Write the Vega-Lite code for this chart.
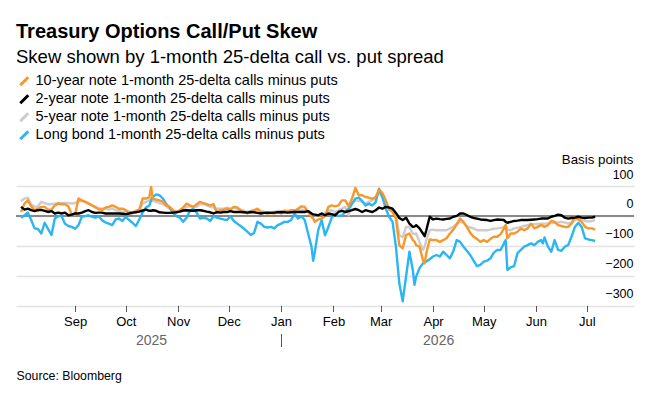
{
  "$schema": "https://vega.github.io/schema/vega-lite/v6.json",
  "autosize": {"type": "none"},
  "width": 618,
  "height": 119.5,
  "padding": {"left": 16, "top": 186, "right": 22, "bottom": 93.5},
  "background": "#ffffff",
  "config": {
    "view": {"stroke": null},
    "font": "Liberation Sans",
    "axis": {"labelOverlap": false},
    "axisY": {"labelOverlap": false, "labelSeparation": 0}
  },
  "title": {
    "text": "Treasury Options Call/Put Skew",
    "subtitle": "Skew shown by 1-month 25-delta call vs. put spread",
    "anchor": "start",
    "frame": "group",
    "font": "Liberation Sans",
    "fontSize": 20,
    "fontWeight": "bold",
    "color": "#000000",
    "subtitleFont": "Liberation Sans",
    "subtitleFontSize": 18.5,
    "subtitleColor": "#000000",
    "subtitlePadding": 6,
    "offset": 8
  },
  "data": {
    "values": [
      {"d": "2025-07-31", "o": 13, "k": 30, "g": 50, "b": -6},
      {"d": "2025-08-02", "o": 41, "k": 21, "g": 58, "b": 2},
      {"d": "2025-08-04", "o": 52, "k": 24, "g": 61, "b": 11},
      {"d": "2025-08-06", "o": 32, "k": 19, "g": 39, "b": -14},
      {"d": "2025-08-08", "o": 19, "k": 16, "g": 30, "b": -42},
      {"d": "2025-08-10", "o": 24, "k": 19, "g": 32, "b": -44},
      {"d": "2025-08-12", "o": 30, "k": 20, "g": 47, "b": -59},
      {"d": "2025-08-14", "o": 30, "k": 17, "g": 43, "b": -23},
      {"d": "2025-08-16", "o": 21, "k": 13, "g": 39, "b": -44},
      {"d": "2025-08-18", "o": 21, "k": 16, "g": 39, "b": -64},
      {"d": "2025-08-20", "o": 35, "k": 8, "g": 41, "b": -9},
      {"d": "2025-08-22", "o": 41, "k": 11, "g": 43, "b": -1},
      {"d": "2025-08-24", "o": 39, "k": 8, "g": 43, "b": -1},
      {"d": "2025-08-26", "o": 39, "k": 11, "g": 43, "b": -26},
      {"d": "2025-08-28", "o": 32, "k": 2, "g": 43, "b": -34},
      {"d": "2025-08-30", "o": 5, "k": 4, "g": 41, "b": -37},
      {"d": "2025-09-01", "o": 4, "k": 8, "g": 43, "b": -43},
      {"d": "2025-09-03", "o": 58, "k": 8, "g": 50, "b": -31},
      {"d": "2025-09-05", "o": 52, "k": 11, "g": 50, "b": -3},
      {"d": "2025-09-07", "o": 47, "k": 16, "g": 47, "b": -1},
      {"d": "2025-09-09", "o": 41, "k": 19, "g": 43, "b": 2},
      {"d": "2025-09-11", "o": 35, "k": 13, "g": 35, "b": -3},
      {"d": "2025-09-13", "o": 28, "k": 10, "g": 32, "b": -6},
      {"d": "2025-09-15", "o": 22, "k": 11, "g": 26, "b": -1},
      {"d": "2025-09-17", "o": 20, "k": 11, "g": 24, "b": -15},
      {"d": "2025-09-19", "o": 28, "k": 8, "g": 24, "b": -22},
      {"d": "2025-09-21", "o": 30, "k": 8, "g": 21, "b": -26},
      {"d": "2025-09-23", "o": 35, "k": 8, "g": 24, "b": -31},
      {"d": "2025-09-25", "o": 30, "k": 8, "g": 19, "b": -12},
      {"d": "2025-09-27", "o": 24, "k": 8, "g": 17, "b": -9},
      {"d": "2025-09-29", "o": 24, "k": 7, "g": 13, "b": -17},
      {"d": "2025-10-01", "o": 19, "k": 6, "g": 13, "b": -3},
      {"d": "2025-10-03", "o": 13, "k": 8, "g": 10, "b": -14},
      {"d": "2025-10-05", "o": 11, "k": 11, "g": 8, "b": -23},
      {"d": "2025-10-07", "o": 17, "k": 12, "g": 13, "b": -34},
      {"d": "2025-10-09", "o": 21, "k": 14, "g": 19, "b": -12},
      {"d": "2025-10-11", "o": 58, "k": 18, "g": 41, "b": 11},
      {"d": "2025-10-13", "o": 58, "k": 21, "g": 47, "b": 28},
      {"d": "2025-10-15", "o": 63, "k": 17, "g": 52, "b": 35},
      {"d": "2025-10-16", "o": 97, "k": 17, "g": 58, "b": 52},
      {"d": "2025-10-17", "o": 58, "k": 19, "g": 50, "b": 63},
      {"d": "2025-10-19", "o": 54, "k": 17, "g": 47, "b": 72},
      {"d": "2025-10-21", "o": 52, "k": 12, "g": 43, "b": 69},
      {"d": "2025-10-23", "o": 47, "k": 11, "g": 39, "b": 58},
      {"d": "2025-10-25", "o": 35, "k": 10, "g": 32, "b": 39},
      {"d": "2025-10-27", "o": 30, "k": 10, "g": 24, "b": 28},
      {"d": "2025-10-29", "o": 19, "k": 11, "g": 17, "b": 10},
      {"d": "2025-10-31", "o": 13, "k": 12, "g": 13, "b": -1},
      {"d": "2025-11-02", "o": 19, "k": 14, "g": 16, "b": -6},
      {"d": "2025-11-04", "o": 28, "k": 18, "g": 21, "b": -20},
      {"d": "2025-11-06", "o": 41, "k": 19, "g": 30, "b": -6},
      {"d": "2025-11-08", "o": 35, "k": 18, "g": 32, "b": 17},
      {"d": "2025-11-10", "o": 30, "k": 17, "g": 30, "b": 24},
      {"d": "2025-11-12", "o": 39, "k": 19, "g": 30, "b": 11},
      {"d": "2025-11-14", "o": 47, "k": 19, "g": 39, "b": -9},
      {"d": "2025-11-16", "o": 43, "k": 17, "g": 39, "b": -6},
      {"d": "2025-11-18", "o": 39, "k": 14, "g": 35, "b": -9},
      {"d": "2025-11-20", "o": 35, "k": 12, "g": 30, "b": -17},
      {"d": "2025-11-22", "o": 39, "k": 8, "g": 28, "b": -1},
      {"d": "2025-11-24", "o": 10, "k": 13, "g": 24, "b": -6},
      {"d": "2025-11-26", "o": 19, "k": 11, "g": 24, "b": -9},
      {"d": "2025-11-28", "o": 21, "k": 13, "g": 24, "b": -12},
      {"d": "2025-11-30", "o": 24, "k": 13, "g": 28, "b": -14},
      {"d": "2025-12-02", "o": 21, "k": 16, "g": 24, "b": -1},
      {"d": "2025-12-04", "o": 30, "k": 13, "g": 28, "b": -17},
      {"d": "2025-12-06", "o": 28, "k": 13, "g": 24, "b": -26},
      {"d": "2025-12-08", "o": 19, "k": 13, "g": 21, "b": -34},
      {"d": "2025-12-10", "o": 13, "k": 12, "g": 17, "b": -43},
      {"d": "2025-12-12", "o": 8, "k": 11, "g": 13, "b": -53},
      {"d": "2025-12-14", "o": 13, "k": 13, "g": 17, "b": -64},
      {"d": "2025-12-16", "o": 19, "k": 12, "g": 19, "b": -57},
      {"d": "2025-12-18", "o": 24, "k": 10, "g": 21, "b": -20},
      {"d": "2025-12-20", "o": 13, "k": 8, "g": 17, "b": -26},
      {"d": "2025-12-22", "o": 11, "k": 10, "g": 13, "b": -37},
      {"d": "2025-12-24", "o": 8, "k": 11, "g": 12, "b": -39},
      {"d": "2025-12-26", "o": 10, "k": 10, "g": 13, "b": -37},
      {"d": "2025-12-28", "o": 8, "k": 11, "g": 13, "b": -42},
      {"d": "2025-12-30", "o": 13, "k": 12, "g": 16, "b": -31},
      {"d": "2026-01-01", "o": 8, "k": 13, "g": 13, "b": -26},
      {"d": "2026-01-03", "o": 17, "k": 12, "g": 17, "b": -20},
      {"d": "2026-01-05", "o": 13, "k": 11, "g": 17, "b": -20},
      {"d": "2026-01-07", "o": 19, "k": 12, "g": 19, "b": -14},
      {"d": "2026-01-09", "o": 17, "k": 13, "g": 19, "b": 8},
      {"d": "2026-01-11", "o": 24, "k": 13, "g": 19, "b": -9},
      {"d": "2026-01-13", "o": 32, "k": 13, "g": 21, "b": -1},
      {"d": "2026-01-15", "o": 30, "k": 13, "g": 19, "b": -14},
      {"d": "2026-01-17", "o": 13, "k": 16, "g": 13, "b": -59},
      {"d": "2026-01-19", "o": -3, "k": 8, "g": 8, "b": -103},
      {"d": "2026-01-20", "o": -9, "k": 5, "g": 5, "b": -150},
      {"d": "2026-01-21", "o": -20, "k": 4, "g": 2, "b": -120},
      {"d": "2026-01-23", "o": -12, "k": 2, "g": 2, "b": -47},
      {"d": "2026-01-25", "o": -9, "k": 8, "g": 8, "b": -14},
      {"d": "2026-01-27", "o": -1, "k": 2, "g": 8, "b": -65},
      {"d": "2026-01-29", "o": 30, "k": 8, "g": 17, "b": -37},
      {"d": "2026-01-31", "o": 35, "k": 6, "g": 19, "b": -6},
      {"d": "2026-02-02", "o": 32, "k": 2, "g": 13, "b": 6},
      {"d": "2026-02-04", "o": 35, "k": 13, "g": 19, "b": -1},
      {"d": "2026-02-06", "o": 52, "k": 17, "g": 24, "b": 2},
      {"d": "2026-02-08", "o": 52, "k": 13, "g": 30, "b": 13},
      {"d": "2026-02-10", "o": 32, "k": 16, "g": 2, "b": 24},
      {"d": "2026-02-12", "o": 58, "k": 19, "g": 41, "b": 41},
      {"d": "2026-02-14", "o": 94, "k": 23, "g": 52, "b": 58},
      {"d": "2026-02-16", "o": 69, "k": 19, "g": 50, "b": 61},
      {"d": "2026-02-18", "o": 69, "k": 13, "g": 47, "b": 50},
      {"d": "2026-02-20", "o": 63, "k": 19, "g": 41, "b": 35},
      {"d": "2026-02-22", "o": 61, "k": 16, "g": 47, "b": 41},
      {"d": "2026-02-24", "o": 57, "k": 13, "g": 52, "b": 35},
      {"d": "2026-02-26", "o": 63, "k": 19, "g": 58, "b": 46},
      {"d": "2026-02-28", "o": 88, "k": 28, "g": 80, "b": 91},
      {"d": "2026-03-02", "o": 77, "k": 24, "g": 63, "b": 63},
      {"d": "2026-03-04", "o": 52, "k": 30, "g": 43, "b": 24},
      {"d": "2026-03-06", "o": 21, "k": 28, "g": 24, "b": -3},
      {"d": "2026-03-08", "o": 13, "k": 24, "g": 19, "b": -20},
      {"d": "2026-03-10", "o": -9, "k": 10, "g": 4, "b": -103},
      {"d": "2026-03-12", "o": -98, "k": -7, "g": -64, "b": -225},
      {"d": "2026-03-14", "o": -109, "k": -14, "g": -72, "b": -286},
      {"d": "2026-03-16", "o": -64, "k": -6, "g": -37, "b": -203},
      {"d": "2026-03-18", "o": -59, "k": -26, "g": -37, "b": -120},
      {"d": "2026-03-20", "o": -81, "k": -37, "g": -59, "b": -181},
      {"d": "2026-03-21", "o": -86, "k": -36, "g": -61, "b": -231},
      {"d": "2026-03-22", "o": -98, "k": -31, "g": -59, "b": -203},
      {"d": "2026-03-24", "o": -103, "k": -42, "g": -87, "b": -175},
      {"d": "2026-03-26", "o": -148, "k": -59, "g": -114, "b": -159},
      {"d": "2026-03-27", "o": -159, "k": -68, "g": -103, "b": -156},
      {"d": "2026-03-28", "o": -125, "k": -48, "g": -81, "b": -153},
      {"d": "2026-03-30", "o": -79, "k": -3, "g": -48, "b": -145},
      {"d": "2026-04-01", "o": -81, "k": -12, "g": -46, "b": -136},
      {"d": "2026-04-03", "o": -81, "k": -9, "g": -48, "b": -131},
      {"d": "2026-04-05", "o": -87, "k": -11, "g": -48, "b": -136},
      {"d": "2026-04-07", "o": -81, "k": -12, "g": -48, "b": -120},
      {"d": "2026-04-09", "o": -75, "k": -10, "g": -48, "b": -131},
      {"d": "2026-04-11", "o": -59, "k": -9, "g": -42, "b": -142},
      {"d": "2026-04-13", "o": -46, "k": -3, "g": -37, "b": -118},
      {"d": "2026-04-15", "o": -29, "k": 0, "g": -26, "b": -81},
      {"d": "2026-04-17", "o": -9, "k": 8, "g": -20, "b": -87},
      {"d": "2026-04-19", "o": -20, "k": 8, "g": -23, "b": -103},
      {"d": "2026-04-21", "o": -37, "k": 3, "g": -34, "b": -117},
      {"d": "2026-04-23", "o": -57, "k": -3, "g": -39, "b": -131},
      {"d": "2026-04-25", "o": -70, "k": -7, "g": -42, "b": -150},
      {"d": "2026-04-27", "o": -77, "k": -9, "g": -48, "b": -168},
      {"d": "2026-04-29", "o": -87, "k": -12, "g": -48, "b": -164},
      {"d": "2026-05-01", "o": -81, "k": -13, "g": -48, "b": -153},
      {"d": "2026-05-03", "o": -87, "k": -14, "g": -48, "b": -150},
      {"d": "2026-05-05", "o": -77, "k": -17, "g": -46, "b": -142},
      {"d": "2026-05-07", "o": -70, "k": -14, "g": -43, "b": -123},
      {"d": "2026-05-09", "o": -70, "k": -12, "g": -42, "b": -114},
      {"d": "2026-05-11", "o": -61, "k": -13, "g": -40, "b": -114},
      {"d": "2026-05-13", "o": -42, "k": -14, "g": -37, "b": -92},
      {"d": "2026-05-14", "o": -31, "k": -20, "g": -31, "b": -81},
      {"d": "2026-05-15", "o": -75, "k": -23, "g": -46, "b": -181},
      {"d": "2026-05-17", "o": -59, "k": -20, "g": -48, "b": -172},
      {"d": "2026-05-19", "o": -59, "k": -17, "g": -42, "b": -168},
      {"d": "2026-05-21", "o": -53, "k": -16, "g": -40, "b": -125},
      {"d": "2026-05-23", "o": -43, "k": -14, "g": -37, "b": -114},
      {"d": "2026-05-25", "o": -48, "k": -14, "g": -34, "b": -103},
      {"d": "2026-05-27", "o": -42, "k": -14, "g": -31, "b": -98},
      {"d": "2026-05-29", "o": -26, "k": -13, "g": -29, "b": -92},
      {"d": "2026-05-31", "o": -42, "k": -12, "g": -28, "b": -98},
      {"d": "2026-06-02", "o": -37, "k": -11, "g": -27, "b": -87},
      {"d": "2026-06-04", "o": -31, "k": -9, "g": -26, "b": -81},
      {"d": "2026-06-05", "o": -33, "k": -9, "g": -26, "b": -92},
      {"d": "2026-06-06", "o": -37, "k": -9, "g": -26, "b": -72},
      {"d": "2026-06-08", "o": -31, "k": -9, "g": -26, "b": -103},
      {"d": "2026-06-10", "o": -17, "k": -3, "g": -24, "b": -120},
      {"d": "2026-06-12", "o": -20, "k": 0, "g": -23, "b": -81},
      {"d": "2026-06-14", "o": -31, "k": 4, "g": -22, "b": -114},
      {"d": "2026-06-16", "o": -34, "k": 2, "g": -20, "b": -117},
      {"d": "2026-06-18", "o": -37, "k": -6, "g": -22, "b": -103},
      {"d": "2026-06-20", "o": -37, "k": -9, "g": -26, "b": -98},
      {"d": "2026-06-22", "o": -26, "k": -7, "g": -22, "b": -70},
      {"d": "2026-06-24", "o": -3, "k": -6, "g": -14, "b": -37},
      {"d": "2026-06-26", "o": -12, "k": -3, "g": -9, "b": -23},
      {"d": "2026-06-28", "o": -20, "k": -6, "g": -12, "b": -37},
      {"d": "2026-06-30", "o": -37, "k": -7, "g": -17, "b": -75},
      {"d": "2026-07-02", "o": -42, "k": -6, "g": -19, "b": -79},
      {"d": "2026-07-04", "o": -42, "k": -6, "g": -17, "b": -81},
      {"d": "2026-07-06", "o": -46, "k": -3, "g": -14, "b": -84}
    ]
  },
  "resolve": {"axis": {"x": "independent"}},
  "layer": [
    {
      "description": "Zero baseline; also carries the year row under the month axis",
      "mark": {"type": "rule", "stroke": "#8a8a8a", "strokeWidth": 1.8},
      "encoding": {
        "x": {
          "datum": {"year": 2025, "month": 7, "date": 28, "utc": true},
          "type": "temporal",
          "scale": {"type": "utc", "domain": [{"year": 2025, "month": 7, "date": 28, "utc": true}, {"year": 2026, "month": 7, "date": 29, "utc": true}]},
          "axis": {
            "orient": "bottom",
            "offset": 28,
            "values": [
              {"year": 2025, "month": 10, "date": 16, "utc": true},
              {"year": 2026, "month": 1, "date": 1, "utc": true},
              {"year": 2026, "month": 4, "date": 4, "utc": true}
            ],
            "format": "%Y",
            "labelExpr": "utcmonth(datum.value) == 0 ? '' : datum.label",
            "domain": false,
            "grid": false,
            "ticks": true,
            "tickSize": 13,
            "tickWidth": 1,
            "tickColor": "#555555",
            "tickOpacity": {"condition": {"test": "utcmonth(datum.value) == 0", "value": 1}, "value": 0},
            "labelPadding": -13,
            "labelFont": "Liberation Sans",
            "labelFontSize": 14,
            "labelColor": "#666666",
            "labelOverlap": false,
            "labelFlush": false,
            "labelBound": false,
            "title": null
          }
        },
        "x2": {"datum": {"year": 2026, "month": 7, "date": 29, "utc": true}},
        "y": {
          "datum": 0,
          "type": "quantitative",
          "scale": {"domain": [-300, 100]},
          "axis": {
            "orient": "right",
            "values": [-300, -200, -100, 0, 100],
            "grid": true,
            "gridColor": "#e2e2e2",
            "gridWidth": 1.6,
            "domain": false,
            "ticks": false,
            "tickSize": 0,
            "labelAlign": "right",
            "labelBaseline": "alphabetic",
            "labelPadding": -1,
            "labelOffset": -8,
            "labelOverlap": false,
            "labelBound": false,
            "labelFlush": false,
            "labelFont": "Liberation Sans",
            "labelFontSize": 12.5,
            "labelColor": "#000000",
            "title": "Basis points",
            "titleFont": "Liberation Sans",
            "titleFontSize": 13.3,
            "titleFontWeight": "normal",
            "titleColor": "#000000",
            "titleAngle": 0,
            "titleAlign": "right",
            "titleBaseline": "alphabetic",
            "titleX": -1,
            "titleY": -23
          }
        }
      }
    },
    {
      "transform": [
        {"fold": ["g", "b", "o", "k"], "as": ["s", "v"]}
      ],
      "mark": {"type": "line", "strokeWidth": 2.4, "strokeJoin": "round", "interpolate": "linear"},
      "encoding": {
        "x": {
          "field": "d",
          "type": "temporal",
          "scale": {"type": "utc", "domain": [{"year": 2025, "month": 7, "date": 28, "utc": true}, {"year": 2026, "month": 7, "date": 29, "utc": true}]},
          "axis": {
            "orient": "bottom",
            "values": [
              {"year": 2025, "month": 9, "date": 1, "utc": true},
              {"year": 2025, "month": 10, "date": 1, "utc": true},
              {"year": 2025, "month": 11, "date": 1, "utc": true},
              {"year": 2025, "month": 12, "date": 1, "utc": true},
              {"year": 2026, "month": 1, "date": 1, "utc": true},
              {"year": 2026, "month": 2, "date": 1, "utc": true},
              {"year": 2026, "month": 3, "date": 1, "utc": true},
              {"year": 2026, "month": 4, "date": 1, "utc": true},
              {"year": 2026, "month": 5, "date": 1, "utc": true},
              {"year": 2026, "month": 6, "date": 1, "utc": true},
              {"year": 2026, "month": 7, "date": 1, "utc": true}
            ],
            "format": "%b",
            "domain": false,
            "grid": false,
            "ticks": true,
            "tickSize": 6,
            "tickWidth": 1,
            "tickColor": "#555555",
            "labelPadding": 4,
            "labelFont": "Liberation Sans",
            "labelFontSize": 13,
            "labelColor": "#000000",
            "labelOverlap": false,
            "labelFlush": false,
            "labelBound": false,
            "title": "Source: Bloomberg",
            "titleFont": "Liberation Sans",
            "titleFontSize": 12.3,
            "titleFontWeight": "normal",
            "titleColor": "#000000",
            "titleAnchor": "start",
            "titleAlign": "left",
            "titleBaseline": "alphabetic",
            "titleX": 0,
            "titleY": 74
          }
        },
        "y": {
          "field": "v",
          "type": "quantitative",
          "scale": {"domain": [-300, 100]},
          "axis": {
            "orient": "right",
            "values": [-300, -200, -100, 0, 100],
            "grid": true,
            "gridColor": "#e2e2e2",
            "gridWidth": 1.6,
            "domain": false,
            "ticks": false,
            "tickSize": 0,
            "labelAlign": "right",
            "labelBaseline": "alphabetic",
            "labelPadding": -1,
            "labelOffset": -8,
            "labelOverlap": false,
            "labelBound": false,
            "labelFlush": false,
            "labelFont": "Liberation Sans",
            "labelFontSize": 12.5,
            "labelColor": "#000000",
            "title": "Basis points",
            "titleFont": "Liberation Sans",
            "titleFontSize": 13.3,
            "titleFontWeight": "normal",
            "titleColor": "#000000",
            "titleAngle": 0,
            "titleAlign": "right",
            "titleBaseline": "alphabetic",
            "titleX": -1,
            "titleY": -23
          }
        },
        "color": {
          "field": "s",
          "type": "nominal",
          "scale": {"domain": ["o", "k", "g", "b"], "range": ["#f8972a", "#000000", "#cccccc", "#2ab5f3"]},
          "legend": {
            "orient": "none",
            "legendX": 1,
            "legendY": -112,
            "direction": "vertical",
            "title": null,
            "symbolType": "M-1,1L1,-1",
            "symbolSize": 64,
            "symbolStrokeWidth": 3,
            "symbolFillColor": "transparent",
            "labelOffset": 4,
            "rowPadding": -3.9,
            "labelFont": "Liberation Sans",
            "labelFontSize": 14.5,
            "labelColor": "#000000",
            "labelLimit": 500,
            "labelExpr": "datum.value == 'o' ? '10-year note 1-month 25-delta calls minus puts' : datum.value == 'k' ? '2-year note 1-month 25-delta calls minus puts' : datum.value == 'g' ? '5-year note 1-month 25-delta calls minus puts' : 'Long bond 1-month 25-delta calls minus puts'"
          }
        }
      }
    }
  ]
}
